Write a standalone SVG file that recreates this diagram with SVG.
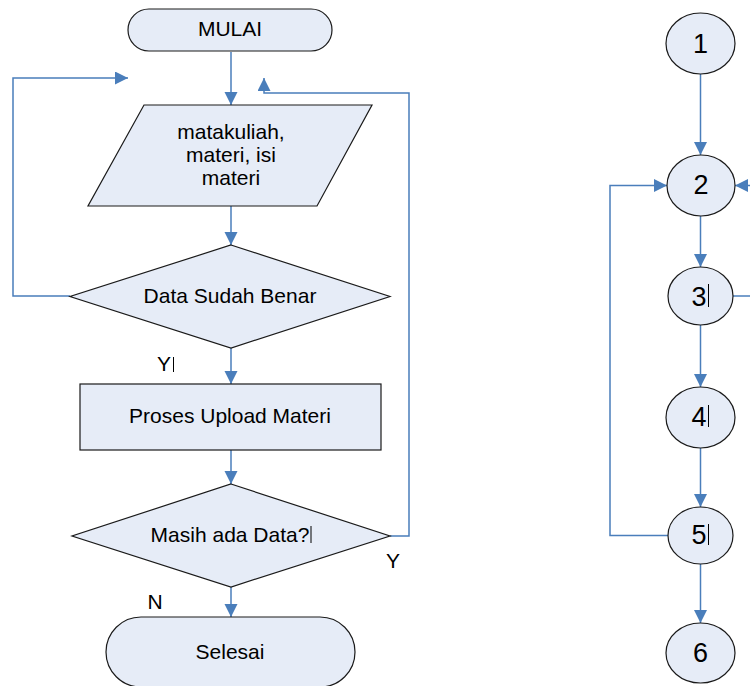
<svg xmlns="http://www.w3.org/2000/svg" width="750" height="686" viewBox="0 0 750 686">
<style>
.n{fill:#E6ECF7;stroke:#1a1a1a;stroke-width:1.2}
.t{font-family:"Liberation Sans",Arial,sans-serif;font-size:21px;fill:#000;text-anchor:middle}
.d{font-family:"Liberation Sans",Arial,sans-serif;font-size:27px;fill:#000;text-anchor:middle}
.c{fill:none;stroke:#4A7EBB;stroke-width:1.5}
.a{marker-end:url(#ah)}
.bar{stroke:#000;stroke-width:1}
</style>
<defs>
<marker id="ah" markerUnits="userSpaceOnUse" markerWidth="14" markerHeight="14" refX="13" refY="6.5" orient="auto">
<path d="M0,0 L13,6.5 L0,13 z" fill="#4A7EBB"/>
</marker>
</defs>
<g id="connectors">
<path class="c a" d="M231,52 V105"/>
<path class="c a" d="M231,206 V245"/>
<path class="c a" d="M231,348 V384"/>
<path class="c a" d="M231,450 V484"/>
<path class="c a" d="M231,587 V617"/>
<path class="c a" d="M70,296 H13 V78 H128"/>
<path class="c a" d="M390,536 H409 V93 H264 V78"/>
<path class="c a" d="M700.5,74 V155"/>
<path class="c a" d="M700.5,216 V267"/>
<path class="c a" d="M700.5,325 V387"/>
<path class="c a" d="M700.5,448 V507"/>
<path class="c a" d="M700.5,564 V623"/>
<path class="c a" d="M668,535.5 H610 V185.5 H667"/>
<path class="c a" d="M752,185.5 H735"/>
<path class="c" d="M733,296 H752"/>
</g>
<g id="mulai">
<rect class="n" x="128" y="9" width="204" height="42" rx="21"/>
<text class="t" x="230" y="36">MULAI</text>
</g>
<g id="input">
<polygon class="n" points="144,105 372,105 317,206 88,206"/>
<text class="t" x="231" y="139" font-size="20">matakuliah,</text>
<text class="t" x="231" y="162" font-size="20">materi, isi</text>
<text class="t" x="231" y="185" font-size="20">materi</text>
</g>
<g id="cek">
<polygon class="n" points="231,245 390,296.5 231,348 70,296.5"/>
<text class="t" x="230" y="303">Data Sudah Benar</text>
</g>
<g id="labelY1">
<text class="t" x="164" y="371" font-size="18">Y</text>
<line class="bar" x1="173.5" y1="357" x2="173.5" y2="372"/>
</g>
<g id="proses">
<rect class="n" x="80" y="384" width="301" height="66"/>
<text class="t" x="230" y="423">Proses Upload Materi</text>
</g>
<g id="masih">
<polygon class="n" points="231,484 390,536 231,587 72,536"/>
<text class="t" x="230" y="542">Masih ada Data?</text>
<line class="bar" x1="311" y1="526" x2="311" y2="543"/>
</g>
<g id="labelY2"><text class="t" x="393" y="568" font-size="20">Y</text></g>
<g id="labelN"><text class="t" x="155" y="609" font-size="18">N</text></g>
<g id="selesai">
<rect class="n" x="106" y="617" width="249" height="70" rx="35"/>
<text class="t" x="230" y="659">Selesai</text>
</g>
<g id="n1"><ellipse class="n" cx="700.5" cy="43.5" rx="34.5" ry="30.5"/><text class="d" x="700.5" y="53">1</text></g>
<g id="n2"><ellipse class="n" cx="701" cy="185.5" rx="34" ry="30.5"/><text class="d" x="701" y="194">2</text></g>
<g id="n3"><ellipse class="n" cx="700.5" cy="296" rx="32.5" ry="29"/><text class="d" x="699" y="306">3</text><line class="bar" x1="708.5" y1="284" x2="708.5" y2="307"/></g>
<g id="n4"><ellipse class="n" cx="700.5" cy="417.5" rx="34.5" ry="30.5"/><text class="d" x="699" y="426">4</text><line class="bar" x1="708.5" y1="405" x2="708.5" y2="427"/></g>
<g id="n5"><ellipse class="n" cx="700.5" cy="535.5" rx="32.5" ry="28.5"/><text class="d" x="699" y="544">5</text><line class="bar" x1="708.5" y1="524" x2="708.5" y2="545"/></g>
<g id="n6"><ellipse class="n" cx="700.5" cy="653" rx="34.5" ry="30"/><text class="d" x="700.5" y="662">6</text></g>
</svg>
